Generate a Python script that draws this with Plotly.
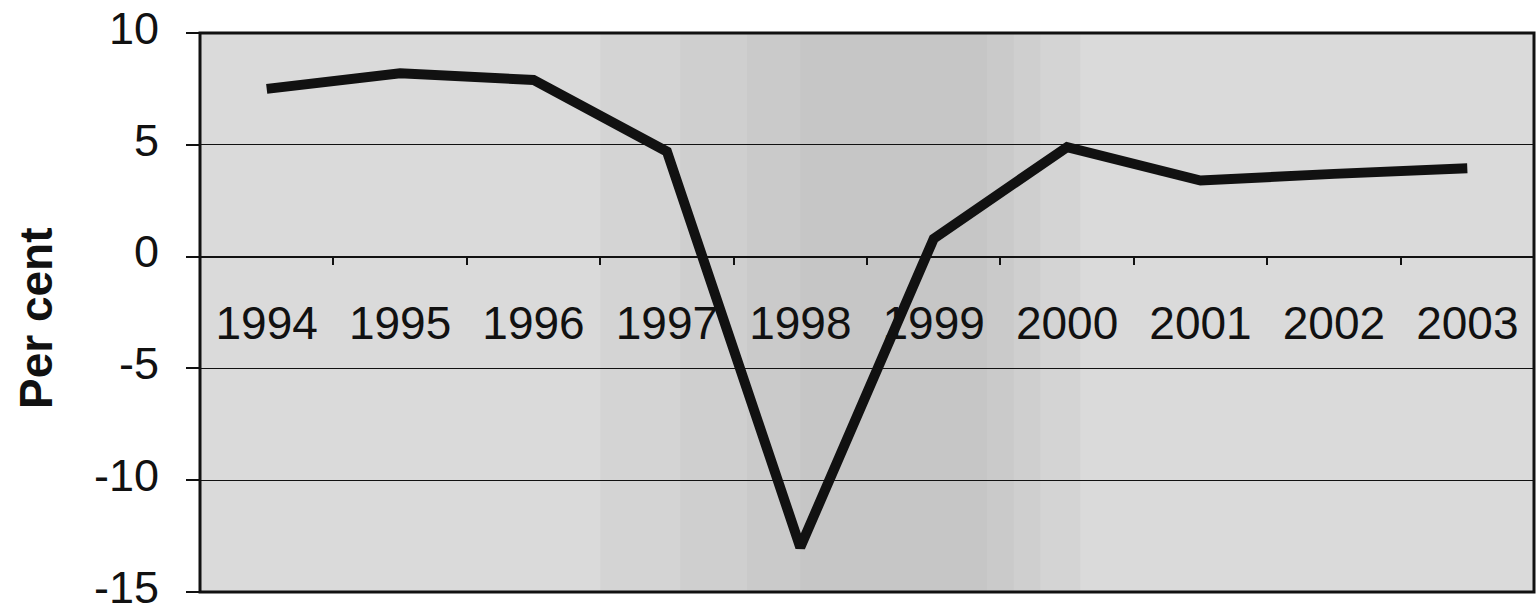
import plotly.graph_objects as go

years = ["1994", "1995", "1996", "1997", "1998", "1999", "2000", "2001", "2002", "2003"]
growth = [7.5, 8.2, 7.9, 4.7, -13.0, 0.8, 4.9, 3.4, 3.7, 3.95]
y_ticks = [10, 5, 0, -5, -10, -15]
y_tick_text = ["10", "5", "0", "-5", "-10", "-15"]

fig = go.Figure()
fig.add_trace(go.Scatter(
    x=years, y=growth, mode="lines",
    line=dict(color="#111111", width=10),
    hoverinfo="skip", showlegend=False,
))

# subtle darker band in the middle of the plot background
bands = [(0.30, 0.66, 0.025), (0.36, 0.63, 0.025), (0.41, 0.61, 0.025), (0.45, 0.59, 0.02)]
for x0, x1, a in bands:
    fig.add_shape(type="rect", xref="x domain", yref="y domain",
                  x0=x0, x1=x1, y0=0, y1=1, layer="below",
                  line=dict(width=0), fillcolor=f"rgba(0,0,0,{a})")

# plot frame
fig.add_shape(type="rect", xref="paper", yref="paper", x0=0, x1=1, y0=0, y1=1,
              line=dict(color="#111111", width=3), layer="above")

font = "Liberation Sans, Arial, sans-serif"
fig.add_annotation(
    text="<b>Per cent</b>", textangle=-90, showarrow=False,
    xref="paper", yref="paper", x=(36 - 200) / 1334, y=(592 - 318) / 559,
    xanchor="center", yanchor="middle",
    font=dict(size=46, family=font, color="#111111"),
)

fig.update_layout(
    width=1540, height=612,
    margin=dict(l=200, r=6, t=33, b=20),
    paper_bgcolor="white",
    plot_bgcolor="#dadada",
    font=dict(family=font, color="#111111"),
    xaxis=dict(
        type="category", automargin=False,
        anchor="free", position=0.6,
        showline=True, linecolor="#111111", linewidth=1.5,
        ticks="outside", ticklen=8, tickcolor="#111111", tickwidth=1.5,
        tickson="boundaries",
        ticklabelstandoff=26,
        tickfont=dict(size=46, family=font, color="#111111"),
        showgrid=False, zeroline=False,
        range=[-0.5, 9.5],
    ),
    yaxis=dict(
        range=[-15, 10], automargin=False,
        tickvals=y_ticks, ticktext=y_tick_text,
        ticks="outside", ticklen=13, tickcolor="#111111", tickwidth=1.5,
        ticklabelstandoff=18, ticklabelshift=-5, ticklabeloverflow="allow",
        tickfont=dict(size=45, family=font, color="#111111"),
        showgrid=True, gridcolor="#111111", gridwidth=1.2,
        zeroline=False,
        showline=False,
    ),
)

fig.write_html("out.html", config={"displayModeBar": False},
               post_script="document.body.style.margin='0';document.body.style.overflow='hidden';")
